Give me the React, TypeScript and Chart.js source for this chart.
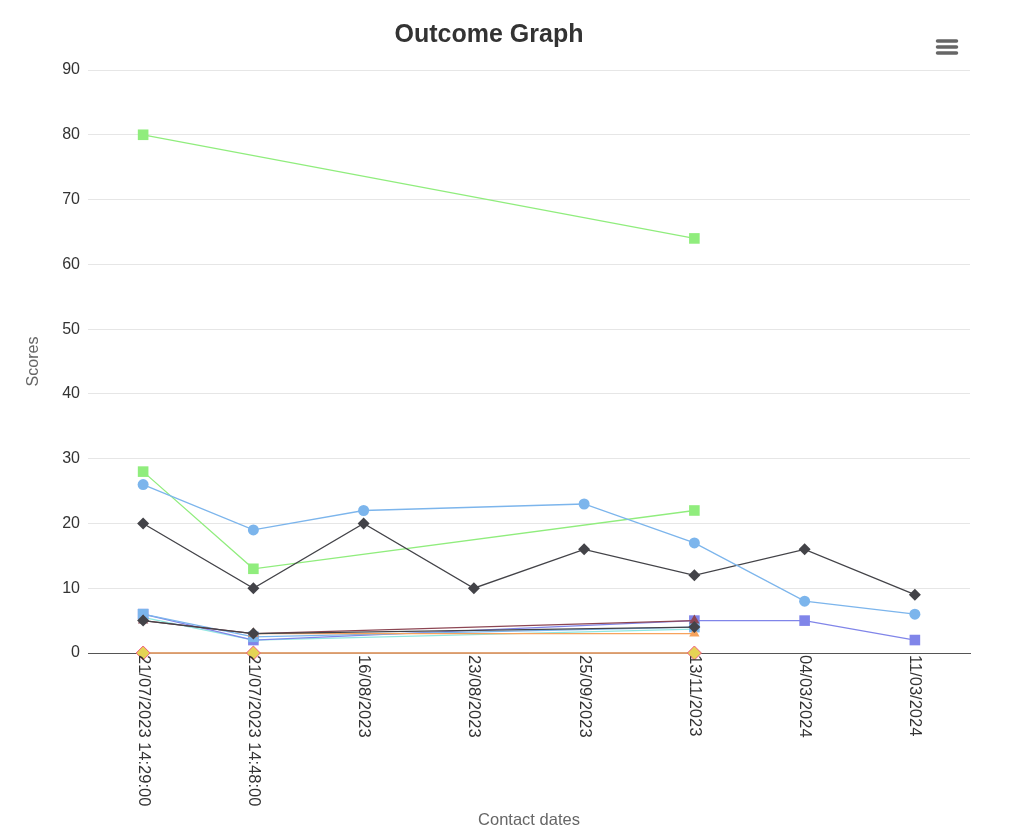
import React, { useEffect, useRef } from "react";
import { Chart, registerables } from "chart.js";

Chart.register(...registerables);

const categories = [
  "21/07/2023 14:29:00",
  "21/07/2023 14:48:00",
  "16/08/2023",
  "23/08/2023",
  "25/09/2023",
  "13/11/2023",
  "04/03/2024",
  "11/03/2024",
];

const blueCircle = [26, 19, 22, null, 23, 17, 8, 6];
const darkDiamond = [20, 10, 20, 10, 16, 12, 16, 9];
const greenSquareLow = [28, 13, null, null, null, 22, null, null];
const greenSquareHigh = [80, null, null, null, null, 64, null, null];
const darkDiamondLow = [5, 3, null, null, null, 4, null, null];
const maroonTriangle = [5, 3, null, null, null, 5, null, null];
const purpleSquare = [6, 2, null, null, null, 5, 5, 2];
const lightBlueSquare = [6, 2.5, null, null, null, 4, null, null];
const cyanTriangleDown = [5.5, 2, null, null, null, 3.7, null, null];
const orangeTriangle = [null, 3, null, null, null, 3, null, null];
const orangeZero = [0, 0, null, null, null, 0, null, null];
const yellowDiamond = [0, 0, null, null, null, 0, null, null];

const yTicks = [0, 10, 20, 30, 40, 50, 60, 70, 80, 90];

const FONT = "'Liberation Sans', Arial, Helvetica, sans-serif";

function ds(label: string, data: (number | null)[], color: string, style: string, radius: number, extra: any = {}) {
  return {
    label,
    data,
    borderColor: color,
    backgroundColor: color,
    pointBackgroundColor: color,
    pointBorderColor: color,
    pointBorderWidth: 0,
    pointStyle: style,
    pointRadius: radius,
    borderWidth: 1.3,
    spanGaps: true,
    tension: 0,
    clip: false,
    ...extra,
  };
}

const xLabelPlugin = {
  id: "xLabelsClockwise",
  afterDraw(chart: any) {
    const ctx = chart.ctx;
    const x = chart.scales.x;
    const y0 = chart.chartArea.bottom;
    ctx.save();
    ctx.font = `16.5px ${FONT}`;
    ctx.fillStyle = "#333333";
    ctx.textAlign = "left";
    ctx.textBaseline = "middle";
    categories.forEach((lab, i) => {
      const px = x.getPixelForTick(i);
      ctx.save();
      ctx.translate(px, y0 + 2);
      ctx.rotate(Math.PI / 2);
      ctx.fillText(lab, 0, 0);
      ctx.restore();
    });
    // hamburger menu icon
    ctx.strokeStyle = "#666666";
    ctx.lineWidth = 3.5;
    ctx.lineCap = "round";
    [41, 47, 53].forEach((yy) => {
      ctx.beginPath();
      ctx.moveTo(937.5, yy);
      ctx.lineTo(956.5, yy);
      ctx.stroke();
    });
    ctx.restore();
  },
};

export default function App() {
  const ref = useRef<HTMLCanvasElement | null>(null);
  useEffect(() => {
    if (!ref.current) return;
    const chart = new Chart(ref.current, {
      type: "line",
      data: {
        labels: categories,
        datasets: [
          ds("L", yellowDiamond, "#e4d354", "rectRot", 7, { pointBorderColor: "#f15c80", pointBorderWidth: 1, borderColor: "#e0a070" }),
          ds("A", blueCircle, "#7cb5ec", "circle", 5.5),
          ds("B", darkDiamond, "#434348", "rectRot", 6),
          ds("C", greenSquareLow, "#90ed7d", "rect", 7.5),
          ds("D", greenSquareHigh, "#90ed7d", "rect", 7.5),
          ds("E", darkDiamondLow, "#434348", "rectRot", 6),
          ds("J", orangeTriangle, "#f7a35c", "triangle", 6),
          ds("F", maroonTriangle, "#8d4653", "triangle", 6),
          ds("H", lightBlueSquare, "#7cb5ec", "rect", 7.5),
          ds("G", purpleSquare, "#8085e9", "rect", 7.5),
          ds("I", cyanTriangleDown, "#91e8e1", "triangle", 6, { pointRotation: 180 }),
          ds("K", orangeZero, "#e0a070", "circle", 0),
        ] as any,
      },
      options: {
        animation: false,
        responsive: true,
        maintainAspectRatio: false,
        layout: { padding: { left: 8, right: 54, top: 0, bottom: 0 } },
        plugins: {
          legend: { display: false },
          tooltip: { enabled: false },
          title: {
            display: true,
            text: "Outcome Graph",
            color: "#333333",
            font: { family: FONT, size: 25, weight: "bold" },
            padding: { top: 20, bottom: 20 },
          },
        },
        scales: {
          x: {
            type: "category",
            offset: true,
            grid: { display: false },
            border: { display: true, color: "#555555", width: 1 },
            ticks: {
              color: "rgba(0,0,0,0)",
              minRotation: 90,
              maxRotation: 90,
              autoSkip: false,
              font: { family: FONT, size: 13 },
            },
            title: {
              display: true,
              text: "Contact dates",
              color: "#666666",
              font: { family: FONT, size: 16.5 },
              padding: { top: 0, bottom: -3 },
            },
            afterFit(scale: any) {
              scale.height = 174;
            },
          },
          y: {
            min: 0,
            max: 90,
            grid: { color: "#e6e6e6", drawTicks: false },
            border: { display: false },
            afterBuildTicks(scale: any) {
              scale.ticks = yTicks.map((v) => ({ value: v }));
            },
            ticks: {
              color: "#333333",
              padding: 8,
              font: { family: FONT, size: 16 },
            },
            title: {
              display: true,
              text: "Scores",
              color: "#666666",
              font: { family: FONT, size: 16 },
              padding: { top: 16, bottom: 0 },
            },
            afterFit(scale: any) {
              scale.width = 80;
            },
          },
        },
      },
      plugins: [xLabelPlugin],
    });
    return () => chart.destroy();
  }, []);
  return (
    <div style={{ position: "fixed", left: 0, top: 0, width: 1024, height: 827, background: "#ffffff" }}>
      <canvas ref={ref} />
    </div>
  );
}
